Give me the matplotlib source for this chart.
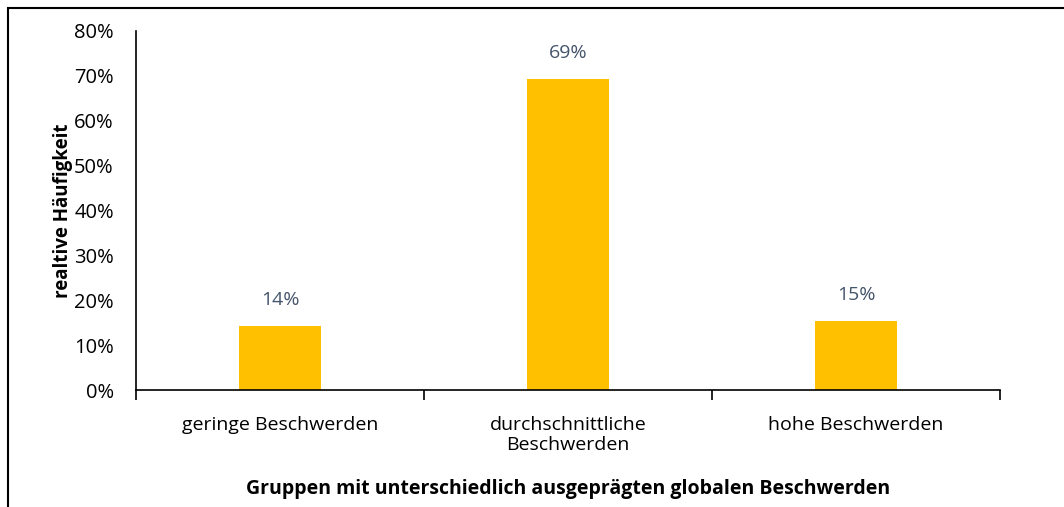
import matplotlib.pyplot as plt
from matplotlib.patches import Rectangle
from matplotlib.ticker import FixedLocator, NullFormatter, PercentFormatter

plt.rcParams['font.family'] = ['Open Sans', 'DejaVu Sans']

categories = ["geringe Beschwerden", "durchschnittliche\nBeschwerden", "hohe Beschwerden"]
values = [0.143, 0.693, 0.154]
labels = ["14%", "69%", "15%"]

fig = plt.figure(figsize=(10.64, 5.07), dpi=100)
ax = fig.add_axes([136 / 1064, 1 - 390 / 507, 864 / 1064, 359 / 507])

x = range(len(categories))
ax.bar(x, values, width=0.285, color="#FFC000", zorder=2)
for xi, v, lab in zip(x, values, labels):
    ax.text(xi, v + 0.037, lab, ha="center", va="bottom", fontsize=14, color="#44546A")

ax.set_xlim(-0.5, 2.5)
ax.set_ylim(0, 0.8)
ax.set_yticks([i / 10 for i in range(9)])
ax.yaxis.set_major_formatter(PercentFormatter(1.0, decimals=0))
ax.tick_params(axis="y", length=0, labelsize=14.5, pad=16)

# category labels centred, tick marks at boundaries
ax.set_xticks(list(x))
ax.set_xticklabels(categories, fontsize=14, linespacing=1.1)
ax.tick_params(axis="x", which="major", length=0, pad=19)
ax.xaxis.set_minor_locator(FixedLocator([-0.5, 0.5, 1.5, 2.5]))
ax.xaxis.set_minor_formatter(NullFormatter())
ax.tick_params(axis="x", which="minor", length=7, width=1.2)

for s in ["top", "right"]:
    ax.spines[s].set_visible(False)
ax.spines["left"].set_linewidth(1.2)
ax.spines["bottom"].set_linewidth(1.2)

ax.set_ylabel("realtive Häufigkeit", fontsize=13.5, fontweight="bold", labelpad=1)
ax.set_xlabel("Gruppen mit unterschiedlich ausgeprägten globalen Beschwerden",
              fontsize=14, fontweight="bold", labelpad=18)

# outer frame (left and top edges visible)
fig.patches.append(Rectangle((8 / 1064, -0.1), 1.2, 1 - 8 / 507 + 0.1,
                             transform=fig.transFigure, fill=False,
                             edgecolor="black", linewidth=1.5))

fig.savefig("out.png", dpi=100)
